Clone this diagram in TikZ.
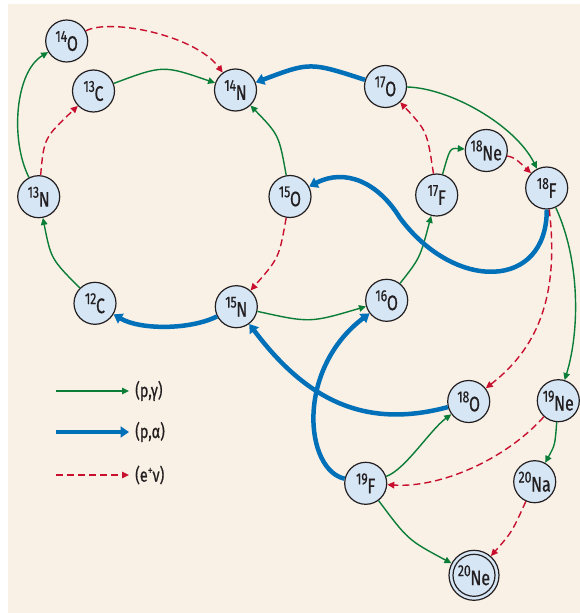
\documentclass[tikz,border=0pt]{standalone}
\usepackage{fontspec}
\setmainfont{Fira Sans}[FakeStretch=0.76,FakeBold=0.6]
\usetikzlibrary{arrows.meta}
\definecolor{bg}{RGB}{249,240,230}
\definecolor{nfill}{RGB}{214,230,245}
\definecolor{pgc}{RGB}{10,125,55}
\definecolor{pac}{RGB}{0,112,185}
\definecolor{evc}{RGB}{200,16,46}
\definecolor{ink}{RGB}{35,31,32}
\newcommand\iso[2]{\raisebox{9pt}{\fontsize{16}{16}\selectfont #1}\kern-0.3pt#2}
\begin{document}
\begin{tikzpicture}[x=1pt,y=-1pt,
 nuc/.style={circle,draw=ink,line width=1.2pt,fill=nfill,minimum size=42pt,inner sep=0pt,text=ink,font=\fontsize{21}{22}\selectfont},
 pgam/.style={draw=pgc,line width=1.4pt,-{Triangle[length=7pt,width=6.5pt]}},
 palf/.style={draw=pac,line width=4.5pt,-{Triangle[length=8.5pt,width=11pt]}},
 bdec/.style={draw=evc,line width=1.4pt,dash pattern=on 7pt off 4pt,-{Triangle[length=7pt,width=6.5pt]}},
 legtxt/.style={anchor=west,inner sep=0pt,text=ink,font=\fontsize{19}{20}\selectfont},
]
\useasboundingbox (0,0) rectangle (580,613);
\fill[bg] (8,4) rectangle (580,613);

% nuclei
\node[nuc] (o14) at (66.7,41) {\iso{14}{O}};
\node[nuc] (c13) at (93.5,91) {\iso{13}{C}};
\node[nuc] (n14) at (235.5,90) {\iso{14}{N}};
\node[nuc] (o17) at (385.5,86.5) {\iso{17}{O}};
\node[nuc] (ne18) at (486.3,150.5) {\iso{18}{Ne}};
\node[nuc] (f18) at (546.7,188) {\iso{18}{F}};
\node[nuc] (f17) at (436.7,195) {\iso{17}{F}};
\node[nuc] (o15) at (290,196.5) {\iso{15}{O}};
\node[nuc] (n13) at (38.7,196.7) {\iso{13}{N}};
\node[nuc] (c12) at (95,303.3) {\iso{12}{C}};
\node[nuc] (n15) at (236.3,306.7) {\iso{15}{N}};
\node[nuc] (o16) at (386.7,300.3) {\iso{16}{O}};
\node[nuc] (o18) at (468.7,401.5) {\iso{18}{O}};
\node[nuc] (ne19) at (558.3,400.7) {\iso{19}{Ne}};
\node[nuc] (f19) at (365.7,483.3) {\iso{19}{F}};
\node[nuc] (na20) at (534.7,481.7) {\iso{20}{Na}};
\node[nuc,minimum size=50pt] (ne20) at (474,575.3) {};
\node[nuc] (ne20i) at (ne20) {\iso{20}{Ne}};

% (p,gamma)
\draw[pgam] (c12) .. controls (51,259) .. (n13);
\draw[pgam] (n13) .. controls (10,140) and (15,72) .. (o14);
\draw[pgam] (c13) .. controls (163,65) .. (n14);
\draw[pgam] (o15) .. controls (279,135) .. (n14);
\draw[pgam] (n15) .. controls (310,323) .. (o16);
\draw[pgam] (o16) .. controls (420,258) .. (f17);
\draw[pgam] (f17) .. controls (450,148) .. (ne18);
\draw[pgam] (o17) .. controls (450,88) and (515,125) .. (f18);
\draw[pgam] (f18) .. controls (580,260) and (580,330) .. (ne19);
\draw[pgam] (ne19) .. controls (555,445) .. (na20);
\draw[pgam] (f19) .. controls (405,470) and (430,430) .. (o18);
\draw[pgam] (f19) .. controls (408,540) .. (ne20);

% (p,alpha)
\coordinate (b3m) at (400,218);
\draw[palf] (n15) .. controls (190,330) and (140,330) .. (c12);
\draw[palf] (o17) .. controls (310,62) .. (n14);
\draw[palf] (f18) .. controls (547,290) and (455,292) .. (b3m) .. controls (378,182) and (345,168) .. (o15);
\draw[palf] (o18) .. controls (370,428) and (310,405) .. (n15);
\draw[palf] (f19) .. controls (305,470) and (295,370) .. (o16);

% (e+ nu)
\draw[bdec] (n13) .. controls (44,138) .. (c13);
\draw[bdec] (o14) .. controls (110,18) and (195,35) .. (n14);
\draw[bdec] (o15) .. controls (279,258) .. (n15);
\draw[bdec] (f17) .. controls (427,131) .. (o17);
\draw[bdec] (ne18) .. controls (515,158) .. (f18);
\draw[bdec] (f18) .. controls (560,300) and (535,350) .. (o18);
\draw[bdec] (ne19) .. controls (505,460) and (440,488) .. (f19);
\draw[bdec] (na20) .. controls (512,532) .. (ne20);

% legend
\coordinate (l1a) at (56,391); \coordinate (l1b) at (129,391);
\coordinate (l2a) at (56,432); \coordinate (l2b) at (129,432);
\coordinate (l3a) at (56,475); \coordinate (l3b) at (129,475);
\draw[pgam] (l1a) -- (l1b);
\draw[palf] (l2a) -- (l2b);
\draw[bdec] (l3a) -- (l3b);
\node[legtxt] (t1) at (135,391) {(p,γ)};
\node[legtxt] (t2) at (135,432) {(p,α)};
\node[legtxt] (t3) at (135,475) {(e\raisebox{7pt}{\fontsize{13}{13}\selectfont +}ν)};
\end{tikzpicture}
\end{document}
